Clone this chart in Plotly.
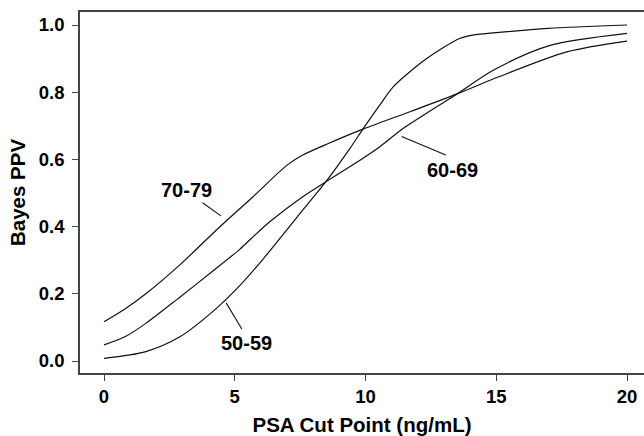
import plotly.graph_objects as go

# PSA cut point (ng/mL) and Bayes PPV for each age group
x_5059 = [0, 1.6, 2.9, 4.2, 5.2, 6.1, 7.4, 8.5, 9.4, 9.9, 10.55, 11.06, 12.34, 13.6, 14.1, 15.1, 17.0, 20]
y_5059 = [0.008, 0.028, 0.072, 0.150, 0.225, 0.305, 0.43, 0.535, 0.632, 0.69, 0.762, 0.816, 0.90, 0.96, 0.97, 0.978, 0.99, 1.0]

x_6069 = [0, 0.8, 1.6, 2.9, 4.2, 5.2, 5.65, 6.35, 7.6, 8.5, 9.5, 10.55, 11.45, 13.5, 14.9, 17.0, 20]
y_6069 = [0.048, 0.072, 0.112, 0.19, 0.27, 0.333, 0.366, 0.415, 0.489, 0.534, 0.583, 0.638, 0.6925, 0.795, 0.866, 0.938, 0.975]

x_7079 = [0, 0.8, 1.6, 2.9, 4.3, 5.7, 7.0, 7.6, 8.6, 9.9, 11.7, 13.5, 15.1, 17.7, 20]
y_7079 = [0.117, 0.155, 0.20, 0.286, 0.39, 0.489, 0.583, 0.613, 0.648, 0.69, 0.742, 0.795, 0.846, 0.92, 0.952]

series_names = ["50-59", "60-69", "70-79"]

# label text positions and leader line endpoints (data coordinates)
label_x = [5.46, 13.33, 3.15]
label_y = [0.053, 0.568, 0.51]
lead_x0 = [5.27, 13.07, 3.77]
lead_y0 = [0.095, 0.613, 0.471]
lead_x1 = [4.67, 11.38, 4.47]
lead_y1 = [0.173, 0.668, 0.432]

x_ticks = [0, 5, 10, 15, 20]
y_ticks = [0.0, 0.2, 0.4, 0.6, 0.8, 1.0]
y_tick_text = ["0.0", "0.2", "0.4", "0.6", "0.8", "1.0"]

FONT = "Liberation Sans, Arial, sans-serif"

fig = go.Figure()
for xs, ys, nm in zip([x_5059, x_6069, x_7079], [y_5059, y_6069, y_7079], series_names):
    fig.add_trace(go.Scatter(x=xs, y=ys, mode="lines", name=nm,
                             line=dict(color="#111111", width=1.2, shape="spline", smoothing=0.8),
                             showlegend=False))

for i, nm in enumerate(series_names):
    fig.add_annotation(x=label_x[i], y=label_y[i], text="<b>%s</b>" % nm, showarrow=False,
                       font=dict(family=FONT, size=20, color="#000"))
    fig.add_shape(type="line", x0=lead_x0[i], y0=lead_y0[i], x1=lead_x1[i], y1=lead_y1[i],
                  line=dict(color="#111111", width=1.1))

fig.update_layout(
    width=644, height=436,
    margin=dict(l=80, r=0, t=12, b=63),
    paper_bgcolor="white", plot_bgcolor="white",
    font=dict(family=FONT, size=18, color="#000"),
)
fig.update_xaxes(
    automargin=False,
    range=[-0.918, 20.65], tickvals=x_ticks, ticktext=[str(v) for v in x_ticks],
    showgrid=False, zeroline=False, showline=True, linecolor="#444", linewidth=1.5, mirror=True,
    ticks="outside", ticklen=6, tickcolor="#444", tickwidth=1,
    tickfont=dict(family=FONT, size=18.5, weight="bold"),
    title=dict(text="<b>PSA Cut Point (ng/mL)</b>", font=dict(family=FONT, size=20.5), standoff=13),
)
fig.update_yaxes(
    automargin=False,
    range=[-0.0357, 1.0387], tickvals=y_ticks, ticktext=y_tick_text,
    showgrid=False, zeroline=False, showline=True, linecolor="#444", linewidth=1.5,
    ticks="outside", ticklen=6, tickcolor="#444", tickwidth=1,
    tickfont=dict(family=FONT, size=18.5, weight="bold"),
    ticklabelstandoff=4,
    title=dict(text="<b>Bayes PPV</b>", font=dict(family=FONT, size=20.5), standoff=8),
)

fig.write_html("out.html", config={"displayModeBar": False},
               post_script="document.body.style.margin='0px';document.body.style.overflow='hidden';")
